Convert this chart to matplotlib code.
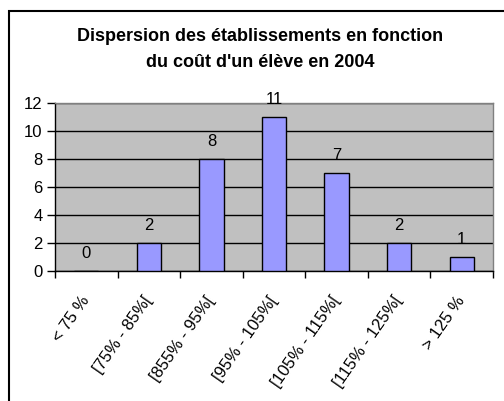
import matplotlib
matplotlib.use("Agg")
import matplotlib.pyplot as plt
from matplotlib.patches import Rectangle
import numpy as np

categories = ['< 75 %', '[75% - 85%[', '[855% - 95%[', '[95% - 105%[',
              '[105% - 115%[', '[115% - 125%[', '> 125 %']
counts = [0, 2, 8, 11, 7, 2, 1]
y_ticks = [0, 2, 4, 6, 8, 10, 12]
title = "Dispersion des établissements en fonction\ndu coût d'un élève en 2004"

plt.rc('font', family=['Liberation Sans', 'DejaVu Sans'], size=12)

fig = plt.figure(figsize=(5.04, 4.01), dpi=100)
# outer chart border (runs off the right and bottom edges)
fig.patches.append(Rectangle((9 / 504, -0.1), 1.2, (401 - 11) / 401 + 0.1,
                             transform=fig.transFigure, fill=False,
                             edgecolor='black', linewidth=1.5))
fig.text(260 / 504, 1 - 49.5 / 401, title, ha='center', va='center',
         fontsize=13, fontweight='bold', linespacing=1.65)

ax = fig.add_axes([55 / 504, 1 - 271 / 401, 438 / 504, 168 / 401])
ax.set_facecolor('#c0c0c0')
x = np.arange(len(categories))
bars = ax.bar(x, counts, width=0.39, color='#9999ff', edgecolor='black',
              linewidth=1, zorder=3)
ax.bar_label(bars, padding=7.5, fontsize=12)

ax.set_xlim(-0.5, len(categories) - 0.5)
ax.set_ylim(0, 12)
ax.set_yticks(y_ticks)
ax.yaxis.grid(True, color='black', linewidth=1)
ax.set_axisbelow(True)

ax.set_xticks(x)
ax.set_xticklabels(categories, rotation=55, ha='right', va='center',
                   rotation_mode='anchor')
ax.tick_params(axis='x', which='major', length=0, pad=19)
ax.set_xticks(np.arange(len(categories) + 1) - 0.5, minor=True)
ax.tick_params(axis='x', which='minor', length=5, width=1, direction='out')
ax.tick_params(axis='y', length=6, width=1, pad=3)

for side in ['top', 'right']:
    ax.spines[side].set_color('#808080')
    ax.spines[side].set_linewidth(1)
for side in ['left', 'bottom']:
    ax.spines[side].set_color('black')
    ax.spines[side].set_linewidth(1)

fig.savefig('out.png', dpi=100)
